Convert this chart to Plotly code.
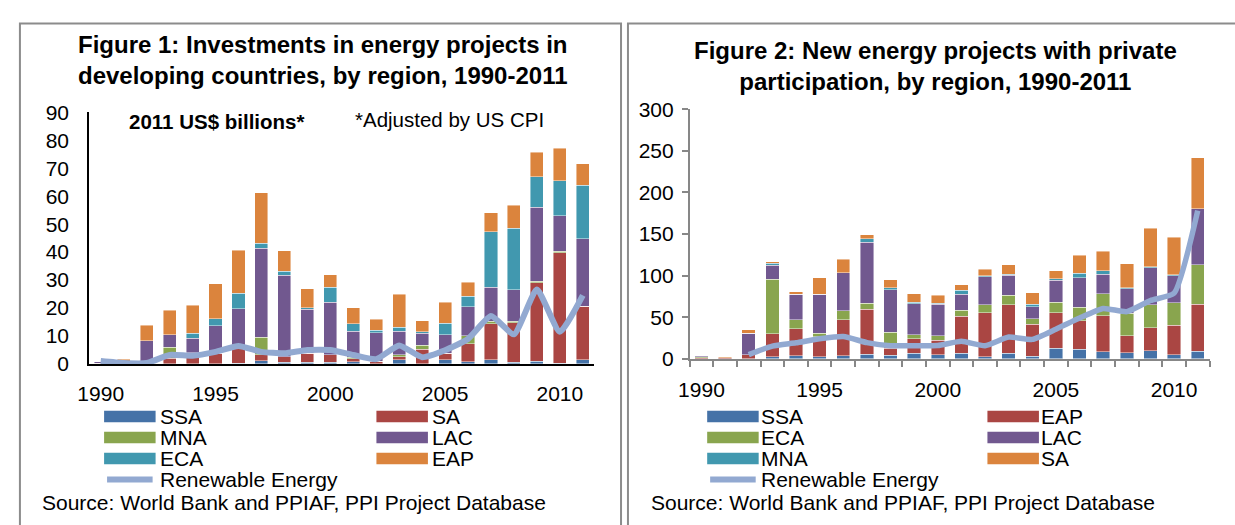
import plotly.graph_objects as go

W, H = 1235, 525

years = list(range(1990, 2012))

# Figure 1: investments in energy projects, 2011 US$ billions (stack order bottom -> top)
f1_ssa = [0, 0, 0, 0, 0, 0, 0.3, 1.1, 0.5, 0.5, 0.5, 0.7, 0, 1.5, 0, 1.5, 0.7, 1.5, 0.6, 0.9, 0.3, 1.5]
f1_sa = [0.3, 0.2, 0.8, 2.0, 4.0, 3.8, 5.2, 2.1, 2.1, 3.3, 2.7, 1.1, 0.9, 1.1, 5.2, 2.3, 6.5, 12.9, 14.2, 28.1, 39.4, 19.1]
f1_mna = [0, 0, 0, 4.0, 0, 0, 0, 6.3, 0, 0, 0, 0.6, 0, 0.6, 1.4, 0, 2.8, 0.8, 0.4, 0.6, 0.6, 0]
f1_lac = [0.4, 0.3, 7.4, 4.5, 5.2, 9.9, 14.3, 31.9, 29.2, 15.7, 18.8, 9.3, 10.3, 8.5, 4.3, 6.6, 10.5, 12.3, 11.4, 26.4, 12.7, 24.2]
f1_eca = [0, 0, 0, 0, 1.7, 2.5, 5.4, 1.7, 1.4, 0.6, 5.4, 2.7, 0.8, 1.4, 0.6, 4.2, 3.7, 19.8, 21.9, 11.0, 12.5, 19.2]
f1_eap = [0, 1.1, 5.7, 8.7, 10.1, 12.4, 15.4, 18.2, 7.2, 6.8, 4.5, 5.6, 4.0, 11.8, 3.9, 7.5, 5.0, 6.7, 8.3, 8.7, 11.6, 7.6]
f1_renew = [1.0, 0.3, 0.3, 3.2, 2.9, 4.3, 6.4, 4.3, 3.8, 5.0, 5.0, 3.2, 1.7, 6.6, 2.4, 4.9, 8.9, 17.1, 10.6, 26.6, 11.5, 24.5]

# Figure 2: new energy projects with private participation (stack order bottom -> top)
f2_ssa = [0, 0, 0, 2.3, 3.8, 2.3, 3.8, 5.7, 4.2, 6.9, 5.0, 6.9, 2.3, 6.9, 3.1, 12.6, 11.5, 8.4, 7.3, 9.6, 5.0, 8.8]
f2_eap = [1.0, 1.0, 5.0, 27.6, 32.6, 24.5, 43.3, 54.1, 8.4, 17.2, 17.2, 44.1, 53.3, 57.9, 38.7, 43.0, 34.5, 43.3, 20.7, 27.9, 35.2, 56.7]
f2_eca = [1.6, 0, 0, 65.9, 10.7, 3.9, 10.8, 7.2, 19.2, 4.6, 5.8, 7.6, 9.5, 11.8, 6.1, 12.6, 15.7, 26.8, 26.8, 27.6, 27.2, 47.5]
f2_lac = [1.2, 0, 25.7, 16.5, 30.7, 47.1, 45.5, 73.2, 51.0, 37.6, 37.5, 19.2, 33.8, 23.8, 14.6, 26.1, 36.0, 23.0, 29.5, 44.5, 32.6, 67.5]
f2_mna = [0, 0, 0, 2.3, 0, 0, 0, 3.9, 2.6, 1.9, 1.5, 4.6, 0.7, 1.1, 3.0, 1.9, 5.0, 4.2, 1.1, 1.1, 0.8, 0]
f2_sa = [0, 1.3, 4.2, 2.3, 3.0, 19.5, 16.5, 4.9, 9.6, 10.3, 9.6, 6.5, 8.1, 11.5, 14.2, 9.5, 21.8, 23.8, 28.8, 46.0, 45.6, 61.3]
f2_renew = [None, None, 5.0, 15.3, 19.2, 24.1, 26.8, 19.5, 15.7, 15.7, 16.0, 21.1, 15.7, 26.1, 23.4, 35.6, 49.0, 60.5, 56.7, 70.1, 78.9, 178.2]

# Region colours
C_BLUE = "#4572A7"
C_RED = "#AA4643"
C_GREEN = "#89A54E"
C_PURPLE = "#71588F"
C_TEAL = "#4198AF"
C_ORANGE = "#DB843D"
C_RENEW = "#92A9D1"

FONT = "Liberation Sans, Arial, sans-serif"

fig1_series = [("SSA", f1_ssa, C_BLUE), ("SA", f1_sa, C_RED), ("MNA", f1_mna, C_GREEN),
               ("LAC", f1_lac, C_PURPLE), ("ECA", f1_eca, C_TEAL), ("EAP", f1_eap, C_ORANGE)]
fig2_series = [("SSA", f2_ssa, C_BLUE), ("EAP", f2_eap, C_RED), ("ECA", f2_eca, C_GREEN),
               ("LAC", f2_lac, C_PURPLE), ("MNA", f2_mna, C_TEAL), ("SA", f2_sa, C_ORANGE)]

fig = go.Figure()

for name, vals, col in fig1_series:
    fig.add_trace(go.Bar(x=years, y=vals, name=name, marker=dict(color=col, line=dict(color="rgba(255,255,255,0.55)", width=0.8)),
                         xaxis="x", yaxis="y", showlegend=False))
fig.add_trace(go.Scatter(x=years, y=f1_renew, name="Renewable Energy", mode="lines",
                         line=dict(color=C_RENEW, width=6, shape="spline", smoothing=0.5),
                         xaxis="x", yaxis="y", showlegend=False))

for name, vals, col in fig2_series:
    fig.add_trace(go.Bar(x=years, y=vals, name=name, marker=dict(color=col, line=dict(color="rgba(255,255,255,0.55)", width=0.8)),
                         xaxis="x2", yaxis="y2", showlegend=False))
fig.add_trace(go.Scatter(x=years, y=f2_renew, name="Renewable Energy", mode="lines",
                         line=dict(color=C_RENEW, width=5.5, shape="spline", smoothing=0.5),
                         xaxis="x2", yaxis="y2", showlegend=False))


def px_x(v):
    return v / W


def px_y(v):
    return 1 - v / H


tickfont = dict(family=FONT, size=21, color="black")
label_years = [1990, 1995, 2000, 2005, 2010]
GRAY = "#878787"

fig.update_layout(
    width=W, height=H,
    margin=dict(l=0, r=0, t=0, b=0),
    paper_bgcolor="white", plot_bgcolor="white",
    barmode="stack", bargap=0.43,
    font=dict(family=FONT, color="black"),
    xaxis=dict(domain=[px_x(78), px_x(588)], range=[1989.5, 2011.5], tickvals=label_years,
               showline=True, linecolor="black", linewidth=2, ticks="", showgrid=False, zeroline=False,
               tickfont=tickfont, ticklabelstandoff=10, anchor="y", fixedrange=True),
    yaxis=dict(domain=[px_y(368), px_y(105)], range=[0, 90], dtick=10,
               showline=True, linecolor="black", linewidth=2, ticks="", showgrid=False, zeroline=False,
               tickfont=tickfont, ticklabelstandoff=14, anchor="x", fixedrange=True),
    xaxis2=dict(domain=[px_x(684.3), px_x(1209.3)], range=[1989.5, 2011.5], tickvals=label_years,
                showline=True, linecolor=GRAY, linewidth=1.5, ticks="", showgrid=False, zeroline=False,
                minor=dict(tick0=1989.5, dtick=1, ticks="outside", ticklen=6, tickwidth=1.5, tickcolor=GRAY),
                tickfont=tickfont, ticklabelstandoff=11, anchor="y2", fixedrange=True),
    yaxis2=dict(domain=[px_y(362.7), px_y(101.7)], range=[0, 300], dtick=50,
                showline=True, linecolor=GRAY, linewidth=1.5, ticks="outside", ticklen=6, tickwidth=1.5,
                tickcolor=GRAY, showgrid=False, zeroline=False,
                tickfont=tickfont, ticklabelstandoff=4, anchor="x2", fixedrange=True),
)

shapes = []
annotations = []

# Panel frames
frame = dict(type="rect", xref="paper", yref="paper", line=dict(color="#8C8C8C", width=2), fillcolor="rgba(0,0,0,0)", layer="below")
shapes.append(dict(frame, x0=px_x(8), x1=px_x(615), y0=-0.1, y1=px_y(12)))
shapes.append(dict(frame, x0=px_x(622), x1=1.05, y0=-0.1, y1=px_y(12)))

# Titles
title_font = dict(family=FONT, size=24, color="black")
annotations.append(dict(text="<b>Figure 1: Investments in energy projects in<br>developing countries, by region, 1990-2011</b>",
                        x=px_x(314), y=px_y(50), xref="paper", yref="paper", xanchor="center", yanchor="middle",
                        showarrow=False, font=title_font))
annotations.append(dict(text="<b>Figure 2: New energy projects with private<br>participation, by region, 1990-2011</b>",
                        x=px_x(933), y=px_y(56), xref="paper", yref="paper", xanchor="center", yanchor="middle",
                        showarrow=False, font=title_font))
annotations.append(dict(text="<b>2011 US$ billions*</b>", x=px_x(116), y=px_y(114), xref="paper", yref="paper",
                        xanchor="left", yanchor="middle", showarrow=False, font=dict(family=FONT, size=20.5, color="black")))
annotations.append(dict(text="*Adjusted by US CPI", x=px_x(344), y=px_y(112), xref="paper", yref="paper",
                        xanchor="left", yanchor="middle", showarrow=False, font=dict(family=FONT, size=20.5, color="black")))

# Legends (two columns, row-major) and source lines
legend_font = dict(family=FONT, size=21, color="black")
row_y = [423, 445, 467, 489]


def add_legend(series, col1_x, col2_x, text_off):
    for i, (name, _, col) in enumerate(series):
        r, c = divmod(i, 2)
        sx = col1_x if c == 0 else col2_x
        yc = row_y[r]
        shapes.append(dict(type="rect", xref="paper", yref="paper", x0=px_x(sx), x1=px_x(sx + 52),
                           y0=px_y(yc + 6), y1=px_y(yc - 6), fillcolor=col, line=dict(width=0)))
        annotations.append(dict(text=name, x=px_x(sx + text_off), y=px_y(yc), xref="paper", yref="paper",
                                xanchor="left", yanchor="middle", showarrow=False, borderpad=0, font=legend_font))
    yc = row_y[3]
    shapes.append(dict(type="line", xref="paper", yref="paper", x0=px_x(col1_x + 3), x1=px_x(col1_x + 49),
                       y0=px_y(yc), y1=px_y(yc), line=dict(color=C_RENEW, width=6)))
    annotations.append(dict(text="Renewable Energy", x=px_x(col1_x + text_off), y=px_y(yc), xref="paper", yref="paper",
                            xanchor="left", yanchor="middle", showarrow=False, borderpad=0, font=legend_font))


add_legend(fig1_series, 93, 368, 55)
add_legend(fig2_series, 702, 985, 53)

annotations.append(dict(text="Source: World Bank and PPIAF, PPI Project Database", x=px_x(29), y=px_y(513),
                        xref="paper", yref="paper", xanchor="left", yanchor="middle", showarrow=False, borderpad=0,
                        font=legend_font))
annotations.append(dict(text="Source: World Bank and PPIAF, PPI Project Database", x=px_x(644), y=px_y(513),
                        xref="paper", yref="paper", xanchor="left", yanchor="middle", showarrow=False, borderpad=0,
                        font=legend_font))

fig.update_layout(shapes=shapes, annotations=annotations)

# Page without default body margin so the figure fills the window exactly
fig.write_html("out.html",
               post_script="document.body.style.margin='0';document.body.style.overflow='hidden';"
                           "document.documentElement.style.overflow='hidden';")
